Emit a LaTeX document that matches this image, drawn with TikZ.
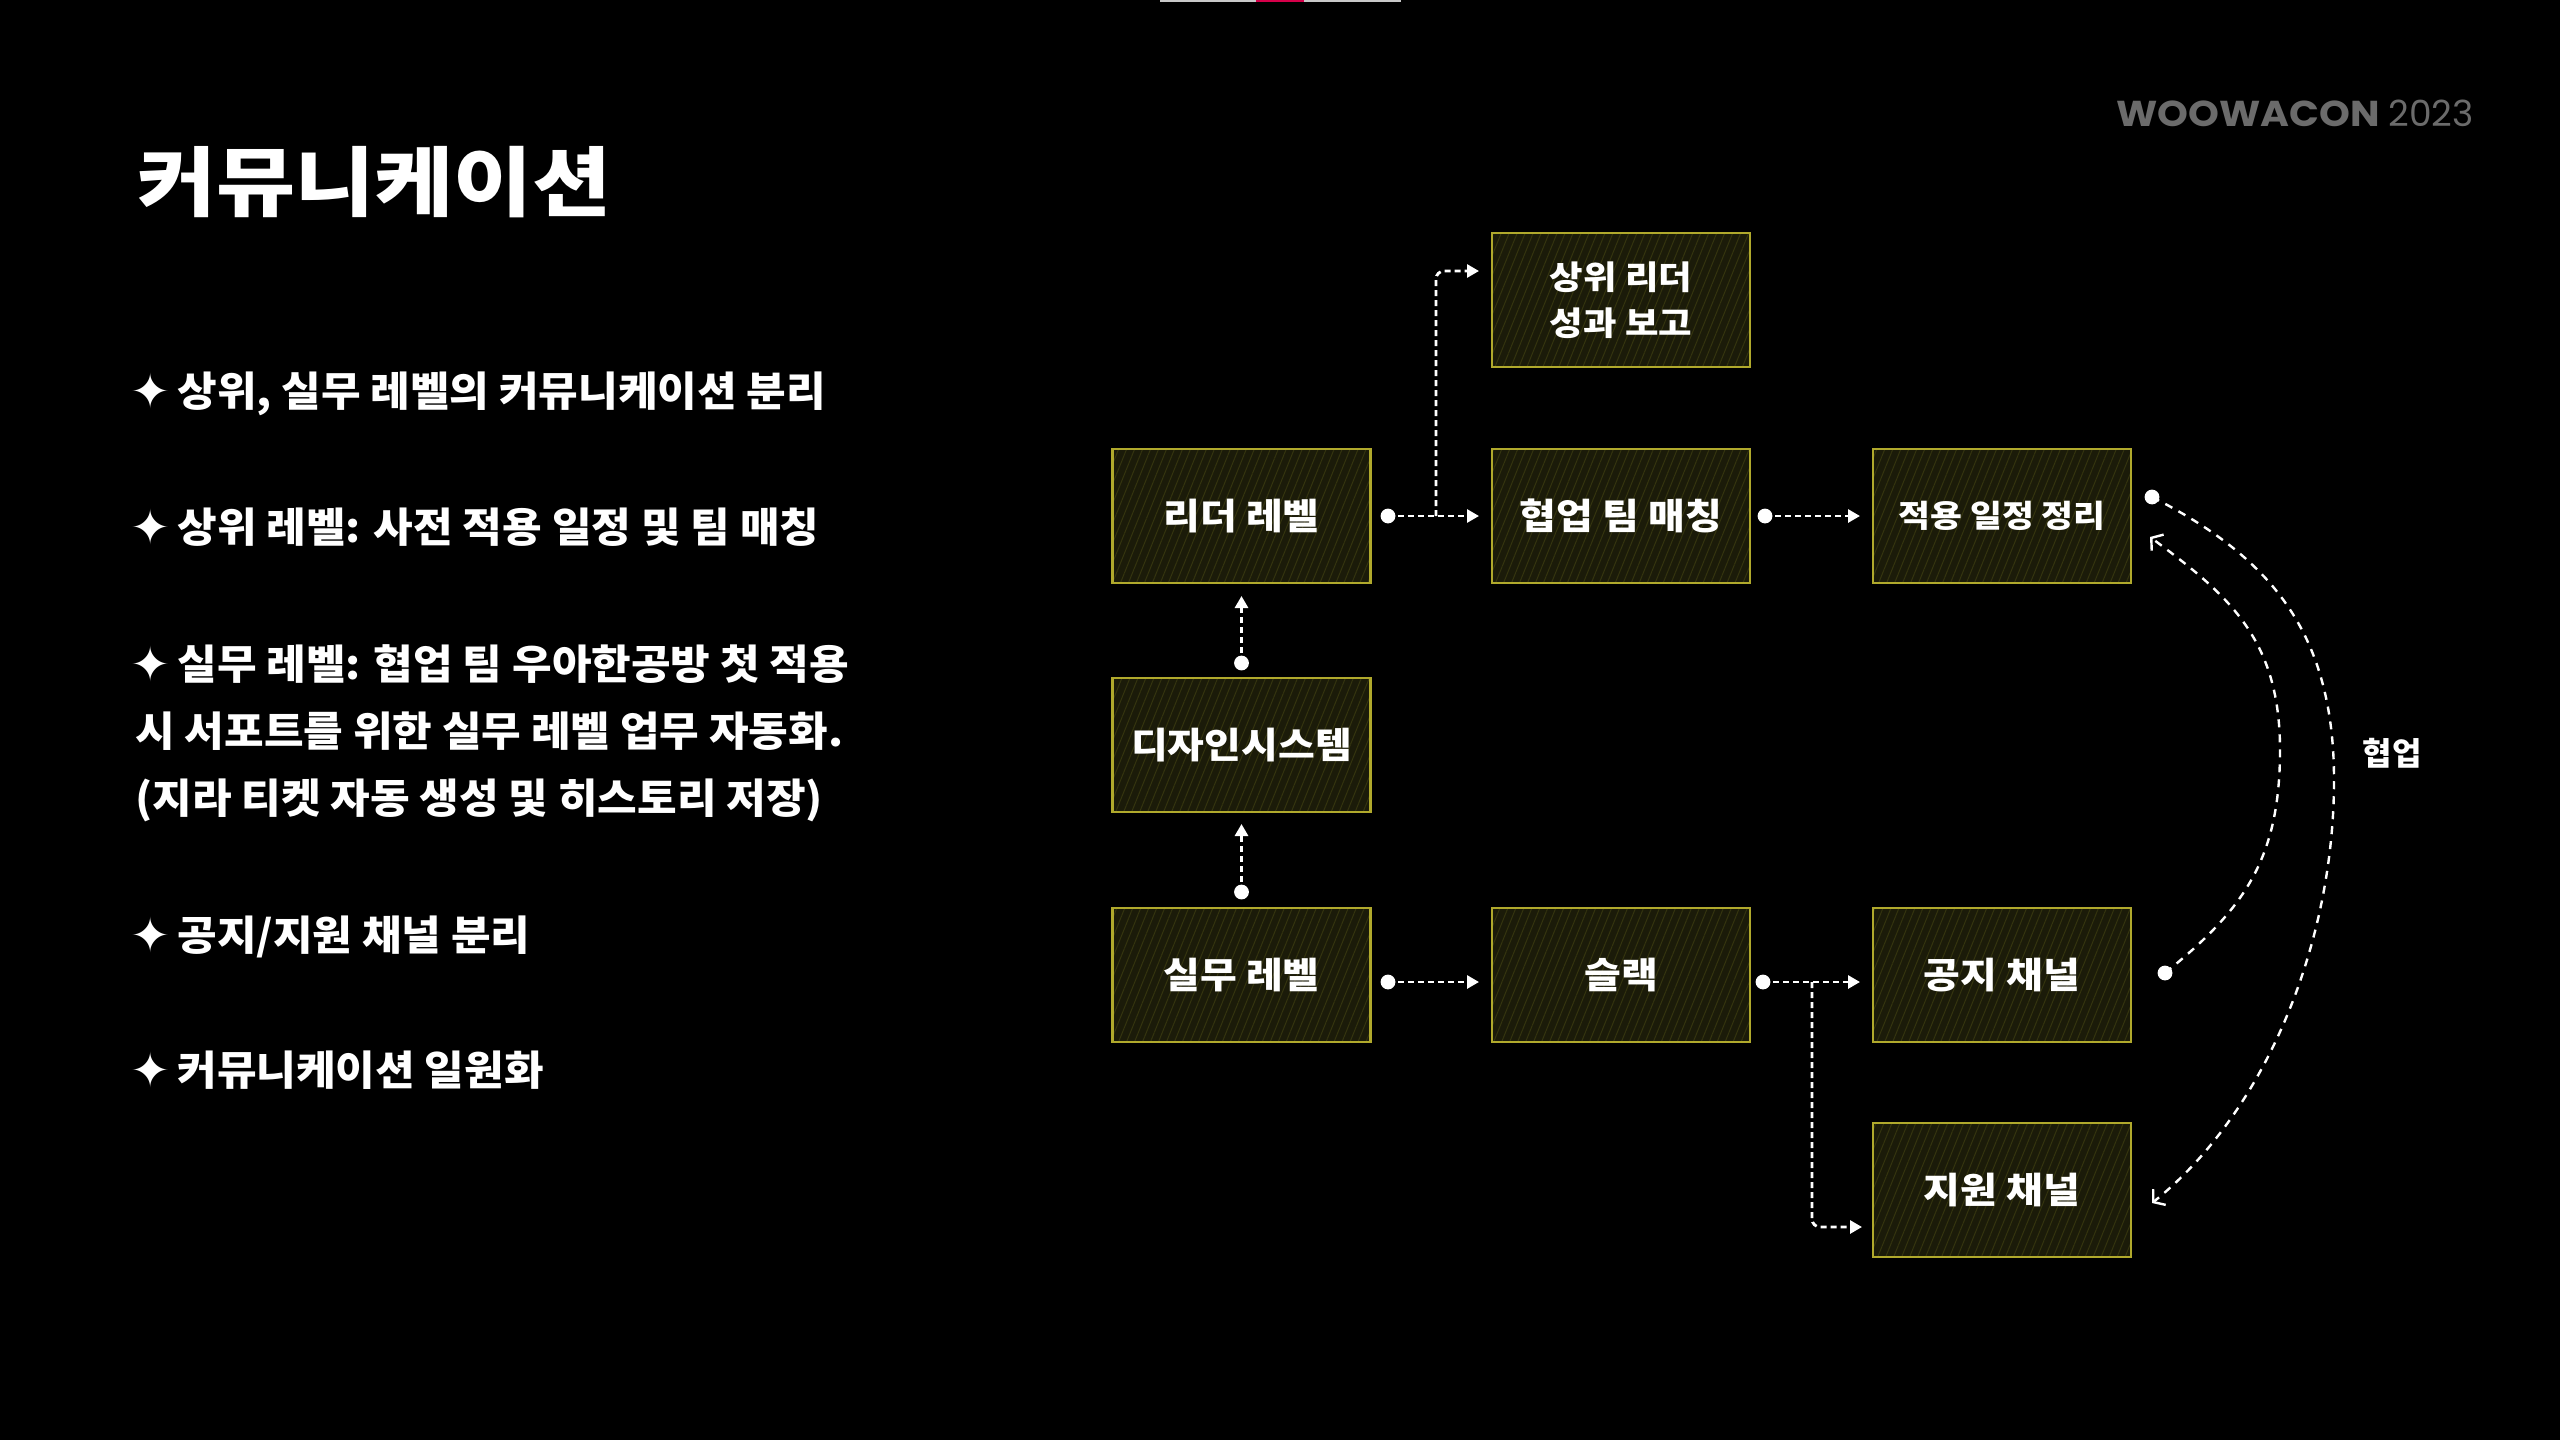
\documentclass[tikz,border=0pt]{standalone}
\usepackage{fontspec}
\setmainfont{Noto Sans CJK KR}
\newfontfamily\krA{Noto Sans CJK KR}[FakeStretch=1.05]
\newfontfamily\krB{Noto Sans CJK KR}[FakeStretch=1.11]
\newfontfamily\krC{Noto Sans CJK KR}[FakeStretch=1.13]
\newfontfamily\symfont{DejaVu Sans}
\newfontfamily\popfont{Poppins}
\newfontfamily\popwide{Poppins}[FakeStretch=1.09]
\usetikzlibrary{arrows.meta,calc,patterns.meta}
\definecolor{boxfill}{HTML}{1B1B09}
\definecolor{stripe}{HTML}{34340F}
\definecolor{boxborder}{HTML}{B0A92C}
\definecolor{logogray}{HTML}{6B6B6B}
\definecolor{barred}{HTML}{D6004A}
\definecolor{bargray}{HTML}{C8C8C8}
\tikzset{
  box/.style={draw=boxborder, line width=1.3pt, preaction={fill=boxfill},
    pattern={Lines[angle=68,distance=3.7pt,line width=0.5pt]}, pattern color=stripe,
    minimum width=129pt, minimum height=67pt, inner sep=0pt, outer sep=0pt,
    text=white, font=\krB\bfseries\fontsize{18}{23}\selectfont, align=center},
  conn/.style={white, line width=1.4pt, dash pattern=on 3pt off 2pt,
    -{Triangle[length=6pt,width=6.5pt]}},
  branch/.style={conn, rounded corners=4pt},
  arcconn/.style={white, line width=1.2pt, dash pattern=on 4pt off 3.5pt,
    -{Straight Barb[length=4pt,width=10pt,line width=1.2pt]}},
  bullet/.style={anchor=base west, inner sep=0pt, text=white,
    font=\krA\bfseries\fontsize{20.5}{26}\selectfont},
  star/.style={inner sep=0pt, text=white, font=\symfont\fontsize{24}{28}\selectfont},
}
\begin{document}
\begin{tikzpicture}[x=0.5pt,y=-0.5pt]
\fill[black] (0,0) rectangle (2560,1440);
\useasboundingbox (0,0) rectangle (2560,1440);
% top bar
\fill[bargray] (1160,0) rectangle (1401,2);
\fill[barred] (1256,0) rectangle (1304,2);
% logo
\node[anchor=base west, inner sep=0pt, text=logogray, font=\popwide\bfseries\fontsize{18}{20}\selectfont] (logo) at (2116,126) {WOOWACON};
\node[anchor=base west, inner sep=0pt, text=logogray, font=\popfont\fontsize{18}{20}\selectfont] (year) at (2388,126) {2023};
% title
\node[anchor=base west, inner sep=0pt, text=white, font=\krC\bfseries\fontsize{38}{44}\selectfont] (title) at (137,210) {커뮤니케이션};
% bullets
\node[star] (s1) at (151,391) {✦};
\node[bullet] (b1) at (177,406) {상위, 실무 레벨의 커뮤니케이션 분리};
\node[star] (s2) at (151,527) {✦};
\node[bullet] (b2) at (177,542) {상위 레벨: 사전 적용 일정 및 팀 매칭};
\node[star] (s3) at (151,664) {✦};
\node[bullet] (b3a) at (177,679) {실무 레벨: 협업 팀 우아한공방 첫 적용};
\node[bullet] (b3b) at (135,746) {시 서포트를 위한 실무 레벨 업무 자동화.};
\node[bullet] (b3c) at (135,813) {(지라 티켓 자동 생성 및 히스토리 저장)};
\node[star] (s4) at (151,935) {✦};
\node[bullet] (b4) at (177,950) {공지/지원 채널 분리};
\node[star] (s5) at (151,1070) {✦};
\node[bullet] (b5) at (177,1085) {커뮤니케이션 일원화};
% boxes
\node[box, font=\krB\bfseries\fontsize{16.4}{23}\selectfont] (up) at (1621,300) {상위 리더\\성과 보고};
\node[box] (leader) at (1241.5,516) {리더 레벨};
\node[box] (collab) at (1621,516) {협업 팀 매칭};
\node[box, font=\krB\bfseries\fontsize{15.6}{20}\selectfont] (sched) at (2002,516) {적용 일정 정리};
\node[box] (ds) at (1241.5,745) {디자인시스템};
\node[box] (silmu) at (1241.5,975) {실무 레벨};
\node[box] (slack) at (1621,975) {슬랙};
\node[box] (notice) at (2002,975) {공지 채널};
\node[box] (support) at (2002,1190) {지원 채널};
% connector endpoints
\coordinate (d1) at ($(leader.east)+(17.5,0)$);
\coordinate (t1) at ($(collab.west)+(-13,0)$);
\coordinate (k1) at ($(leader.east)+(65.5,0)$);
\coordinate (tk1) at ($(up.west)+(-13,-29)$);
\coordinate (d2) at ($(collab.east)+(15,0)$);
\coordinate (t2) at ($(sched.west)+(-13,0)$);
\coordinate (d3) at ($(ds.north)+(0,-15)$);
\coordinate (t3) at ($(leader.south)+(0,13)$);
\coordinate (d4) at ($(silmu.north)+(0,-16)$);
\coordinate (t4) at ($(ds.south)+(0,12)$);
\coordinate (d5) at ($(silmu.east)+(17.5,7)$);
\coordinate (t5) at ($(slack.west)+(-13,7)$);
\coordinate (d6) at ($(slack.east)+(13,7)$);
\coordinate (t6) at ($(notice.west)+(-13,7)$);
\coordinate (k6) at ($(slack.east)+(62,7)$);
\coordinate (tk6) at ($(support.west)+(-11,37)$);
\coordinate (o1) at ($(sched.east)+(21,-19)$);
\coordinate (o2) at ($(support.east)+(21,13)$);
\coordinate (i1) at ($(notice.east)+(34,-2)$);
\coordinate (i2) at ($(sched.east)+(19,21)$);
% straight connectors
\draw[conn] (d1) -- (t1);
\draw[branch] (k1) |- (tk1);
\draw[conn] (d2) -- (t2);
\draw[conn] (d3) -- (t3);
\draw[conn] (d4) -- (t4);
\draw[conn] (d5) -- (t5);
\draw[conn] (d6) -- (t6);
\draw[branch] (k6) |- (tk6);
% arcs
\draw[arcconn] (o1) .. controls (2268,556) and (2334,630) .. (2334,780)
  .. controls (2334,950) and (2261,1116) .. (o2);
\draw[arcconn] (i1) .. controls (2243,910) and (2280,860) .. (2280,750)
  .. controls (2280,640) and (2230,596) .. (i2);
% dots
\foreach \p in {d1,d2,d3,d4,d5,d6,o1,i1} \fill[white] (\p) circle (3.7pt);
% label
\node[text=white, inner sep=0pt, font=\bfseries\fontsize{16}{20}\selectfont] (lbl) at (2392,753) {협업};
\end{tikzpicture}
\end{document}
